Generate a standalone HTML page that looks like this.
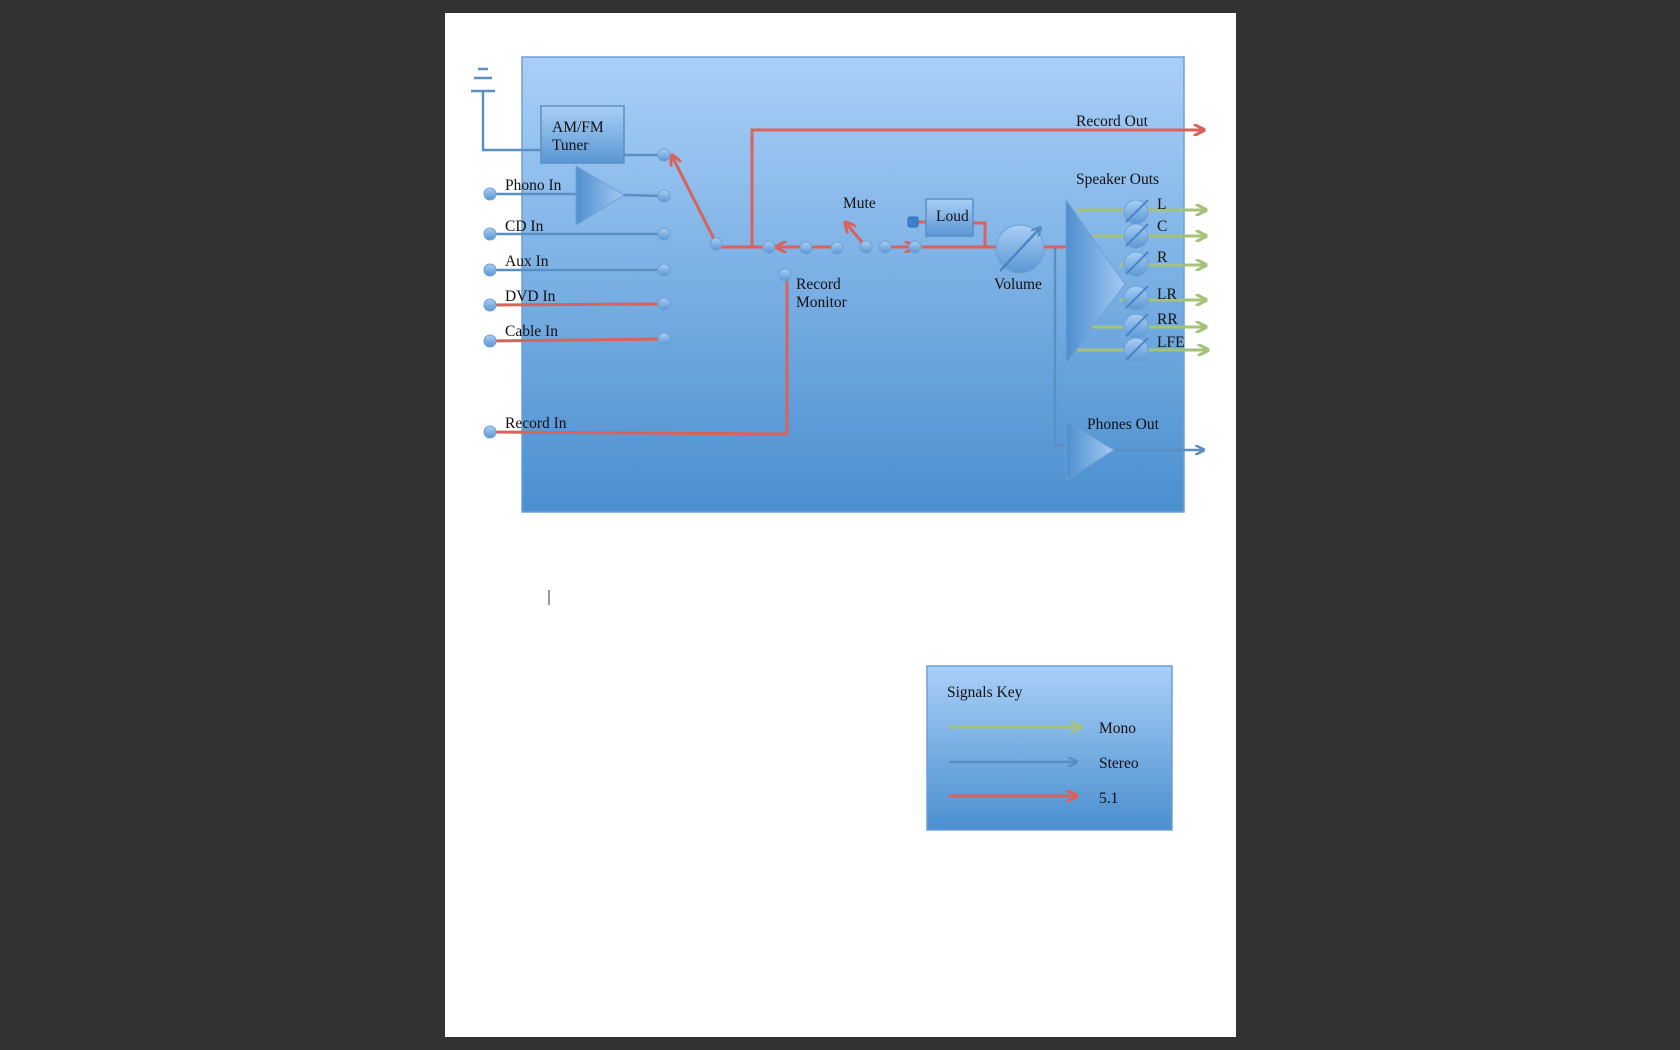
<!DOCTYPE html>
<html><head><meta charset="utf-8"><style>
html,body{margin:0;padding:0;background:#323232;width:1680px;height:1050px;overflow:hidden}
svg{display:block}
text{font-family:"Liberation Serif",serif;font-size:15.5px;fill:#111}
</style></head><body>
<svg width="1680" height="1050" viewBox="0 0 1680 1050" xmlns="http://www.w3.org/2000/svg">
<defs>
<linearGradient id="bg" x1="0" y1="0" x2="0" y2="1"><stop offset="0" stop-color="#a9cff8"/><stop offset="1" stop-color="#4a8fcf"/></linearGradient>
<linearGradient id="nd" x1="0" y1="0" x2="0" y2="1"><stop offset="0" stop-color="#a9cff5"/><stop offset="1" stop-color="#5a97d4"/></linearGradient>
<linearGradient id="tri" x1="0" y1="0" x2="1" y2="0"><stop offset="0" stop-color="#4e8fd0"/><stop offset="1" stop-color="#a3c9f2"/></linearGradient>
<marker id="ar" viewBox="0 0 10 10" refX="8" refY="5" markerWidth="4" markerHeight="4" orient="auto"><path d="M0,0 L10,5 L0,10" fill="none" stroke="#d9625a" stroke-width="2.5"/></marker>
<marker id="ag" viewBox="0 0 10 10" refX="8" refY="5" markerWidth="4" markerHeight="4" orient="auto"><path d="M0,0 L10,5 L0,10" fill="none" stroke="#a5c27a" stroke-width="2.5"/></marker>
<marker id="ab" viewBox="0 0 10 10" refX="8" refY="5" markerWidth="4" markerHeight="4" orient="auto"><path d="M0,0 L10,5 L0,10" fill="none" stroke="#5b8fc4" stroke-width="2.5"/></marker>
</defs>
<rect x="445" y="13" width="791" height="1024" fill="#fff"/>
<rect x="522" y="57" width="662" height="455" fill="url(#bg)" stroke="#6fa0d2" stroke-width="1.5"/>
<rect x="927" y="666" width="245" height="164" fill="url(#bg)" stroke="#6fa0d2" stroke-width="1.5"/>
<g stroke="#5b8fc4" stroke-width="2.5" fill="none">
<line x1="478" y1="69" x2="488" y2="69"/><line x1="474" y1="78" x2="492" y2="78"/><line x1="471" y1="91" x2="495" y2="91"/>
<polyline points="483,91 483,150 541,150"/>
<line x1="624" y1="155" x2="664" y2="155"/>
<line x1="490" y1="194" x2="576" y2="194"/><line x1="624" y1="195" x2="664" y2="196"/>
<line x1="490" y1="234" x2="664" y2="234"/>
<line x1="490" y1="270" x2="664" y2="270"/>
<polyline points="1055,247 1055,445 1066,445"/>
<line x1="1114" y1="450" x2="1203" y2="450" marker-end="url(#ab)"/>
<line x1="949" y1="762" x2="1076" y2="762" marker-end="url(#ab)"/>
</g>
<rect x="541" y="106" width="83" height="57" fill="url(#nd)" stroke="#5b8fc4" stroke-width="1.5"/>
<text x="552" y="132">AM/FM</text><text x="552" y="150">Tuner</text>
<polygon points="576,166 624,195 576,225" fill="url(#tri)" stroke="#6fa0d2"/>
<g stroke="#d9625a" stroke-width="3" fill="none">
<line x1="490" y1="305" x2="664" y2="304"/>
<line x1="490" y1="341" x2="664" y2="339"/>
<polyline points="490,432 787,434 787,275"/>
<line x1="716" y1="243" x2="672" y2="156" marker-end="url(#ar)"/>
<line x1="716" y1="247" x2="806" y2="247"/>
<line x1="806" y1="247" x2="777" y2="247" marker-end="url(#ar)"/>
<line x1="806" y1="247" x2="837" y2="247"/>
<polyline points="752,247 752,130 1203,130" marker-end="url(#ar)"/>
<line x1="866" y1="247" x2="846" y2="223" marker-end="url(#ar)"/>
<line x1="885" y1="247" x2="914" y2="247" marker-end="url(#ar)"/>
<line x1="915" y1="247" x2="1066" y2="247"/>
<polyline points="973,223 985,223 985,247"/>
<line x1="913" y1="222" x2="926" y2="222"/>
<line x1="949" y1="796" x2="1076" y2="796" marker-end="url(#ar)"/>
</g>
<g fill="url(#nd)" stroke="#6fa0d2" stroke-width="1">
<circle cx="490" cy="194" r="6"/><circle cx="490" cy="234" r="6"/><circle cx="490" cy="270" r="6"/><circle cx="490" cy="305" r="6"/><circle cx="490" cy="341" r="6"/><circle cx="490" cy="432" r="6"/>
<circle cx="664" cy="155" r="6"/><circle cx="664" cy="196" r="6"/><circle cx="664" cy="234" r="6"/><circle cx="664" cy="270" r="6"/><circle cx="664" cy="304" r="6"/><circle cx="664" cy="339" r="6"/>
<circle cx="716" cy="244" r="6"/><circle cx="769" cy="247" r="6"/><circle cx="806" cy="248" r="6"/><circle cx="837" cy="248" r="6"/><circle cx="785" cy="275" r="6"/>
<circle cx="866" cy="247" r="6"/><circle cx="885" cy="247" r="6"/><circle cx="915" cy="247" r="6"/>
</g>
<rect x="908" y="217" width="10" height="10" rx="2" fill="#3d7fd0" stroke="#2f6db5"/>
<rect x="926" y="199" width="47" height="37" fill="url(#nd)" stroke="#5b8fc4" stroke-width="1.5"/>
<text x="936" y="221">Loud</text>
<text x="843" y="208">Mute</text>
<text x="796" y="289">Record</text><text x="796" y="307">Monitor</text>
<text x="505" y="190">Phono In</text><text x="505" y="231">CD In</text><text x="505" y="266">Aux In</text><text x="505" y="301">DVD In</text><text x="505" y="336">Cable In</text><text x="505" y="428">Record In</text>
<text x="1076" y="126">Record Out</text><text x="1076" y="184">Speaker Outs</text><text x="1087" y="429">Phones Out</text><text x="994" y="289">Volume</text>
<circle cx="1020" cy="249" r="24" fill="url(#nd)" stroke="#6fa0d2"/>
<line x1="1000" y1="271" x2="1040" y2="228" stroke="#4a86c5" stroke-width="2.5" marker-end="url(#ab)"/>
<polygon points="1066,200 1125,284 1066,364" fill="url(#tri)" stroke="#6fa0d2"/>
<polygon points="1066,421 1114,450 1066,480" fill="url(#tri)" stroke="#6fa0d2"/>
<g stroke="#a5c27a" stroke-width="3" fill="none">
<line x1="1077" y1="210" x2="1205" y2="210" marker-end="url(#ag)"/>
<line x1="1093" y1="236" x2="1205" y2="236" marker-end="url(#ag)"/>
<line x1="1120" y1="265" x2="1205" y2="265" marker-end="url(#ag)"/>
<line x1="1120" y1="300" x2="1205" y2="300" marker-end="url(#ag)"/>
<line x1="1093" y1="327" x2="1205" y2="327" marker-end="url(#ag)"/>
<line x1="1077" y1="350" x2="1207" y2="350" marker-end="url(#ag)"/>
<line x1="949" y1="727" x2="1080" y2="727" marker-end="url(#ag)"/>
</g>
<g fill="url(#nd)" stroke="#6fa0d2">
<circle cx="1136" cy="212" r="12"/><circle cx="1136" cy="236" r="12"/><circle cx="1136" cy="264" r="12"/><circle cx="1136" cy="298" r="12"/><circle cx="1136" cy="326" r="12"/><circle cx="1136" cy="350" r="12"/>
</g>
<g stroke="#4a86c5" stroke-width="2">
<line x1="1126" y1="222" x2="1148" y2="200"/><line x1="1126" y1="246" x2="1148" y2="224"/><line x1="1126" y1="274" x2="1148" y2="252"/><line x1="1126" y1="308" x2="1148" y2="286"/><line x1="1126" y1="336" x2="1148" y2="314"/><line x1="1126" y1="360" x2="1148" y2="338"/>
</g>
<text x="1157" y="209">L</text><text x="1157" y="231">C</text><text x="1157" y="262">R</text><text x="1157" y="299">LR</text><text x="1157" y="324">RR</text><text x="1157" y="347">LFE</text>
<line x1="549" y1="590" x2="549" y2="605" stroke="#333" stroke-width="1"/>
<text x="947" y="697">Signals Key</text>
<text x="1099" y="733">Mono</text><text x="1099" y="768">Stereo</text><text x="1099" y="803">5.1</text>
</svg>
</body></html>
